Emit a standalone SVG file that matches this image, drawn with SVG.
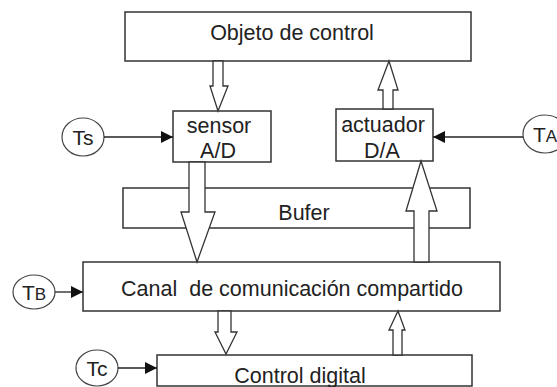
<svg xmlns="http://www.w3.org/2000/svg" width="557" height="387" viewBox="0 0 557 387">
<defs>
<style>
.box{fill:#fff;stroke:#333;stroke-width:1.5}
.blk{fill:#fff;stroke:#333;stroke-width:1.3;stroke-linejoin:miter}
.circ{fill:#fff;stroke:#444;stroke-width:1.2}
.ln{stroke:#222;stroke-width:1.3;fill:none}
.t{font-family:"Liberation Sans",Arial,sans-serif;font-size:21.5px;fill:#222;text-anchor:middle}
.s{font-family:"Liberation Sans",Arial,sans-serif;font-size:21px;fill:#222;text-anchor:middle}
</style>
<marker id="ah" viewBox="0 0 10 10" refX="10" refY="5" markerWidth="12" markerHeight="12" markerUnits="userSpaceOnUse" orient="auto">
<path d="M0,0 L10,5 L0,10 z" fill="#111"/>
</marker>
</defs>
<rect width="557" height="387" fill="#fff"/>
<g id="objeto"><rect class="box" x="125" y="12" width="346" height="49"/><text class="t" x="292" y="40">Objeto de control</text></g>
<g id="bufer"><rect class="box" x="123" y="188" width="347" height="40"/><text class="t" x="304" y="220">Bufer</text></g>
<g id="sensor"><rect class="box" x="173" y="111" width="98" height="51"/><text class="t" x="219" y="133">sensor</text><text class="t" x="218" y="158">A/D</text></g>
<g id="actuador"><rect class="box" x="336" y="109" width="97" height="52"/><text class="t" x="383" y="132">actuador</text><text class="t" x="382" y="158">D/A</text></g>
<g id="canal"><rect class="box" x="83" y="262" width="417" height="49"/><text class="t" x="292" y="296" xml:space="preserve">Canal  de comunicación compartido</text></g>
<g id="control"><rect class="box" x="157" y="355" width="315" height="31"/><text class="t" x="300" y="383">Control digital</text></g>
<g id="ts"><ellipse class="circ" cx="83" cy="137" rx="21" ry="19"/><text class="s" x="83" y="145">Ts</text></g>
<g id="ta"><ellipse class="circ" cx="545" cy="134" rx="22" ry="19"/><text class="s" x="545" y="142">T<tspan font-size="17px">A</tspan></text></g>
<g id="tb"><ellipse class="circ" cx="34" cy="292" rx="21" ry="17"/><text class="s" x="34" y="300">T<tspan font-size="17px">B</tspan></text></g>
<g id="tc"><ellipse class="circ" cx="97" cy="368" rx="21" ry="18"/><text class="s" x="97" y="376">Tc</text></g>
<g id="connectors">
<line class="ln" x1="104" y1="137" x2="173" y2="137" marker-end="url(#ah)"/>
<line class="ln" x1="523" y1="137" x2="433" y2="137" marker-end="url(#ah)"/>
<line class="ln" x1="55" y1="292" x2="83" y2="292" marker-end="url(#ah)"/>
<line class="ln" x1="118" y1="368" x2="157" y2="368" marker-end="url(#ah)"/>
<polygon class="blk" points="213,61 223,61 223,86 228,86 218,111 210,86 213,86"/>
<polygon class="blk" points="383,109 393,109 393,90 398,90 389,61 378,90 383,90"/>
<polygon class="blk" points="189,162 205,162 205,212 215,212 197,262 181,212 189,212"/>
<polygon class="blk" points="414,262 429,262 429,211 437,211 421,161 406,211 414,211"/>
<polygon class="blk" points="218,311 231,311 231,332 237,332 226,354 215,332 218,332"/>
<polygon class="blk" points="393,355 402,355 402,330 405,330 398,311 389,330 393,330"/>
</g>
</svg>
